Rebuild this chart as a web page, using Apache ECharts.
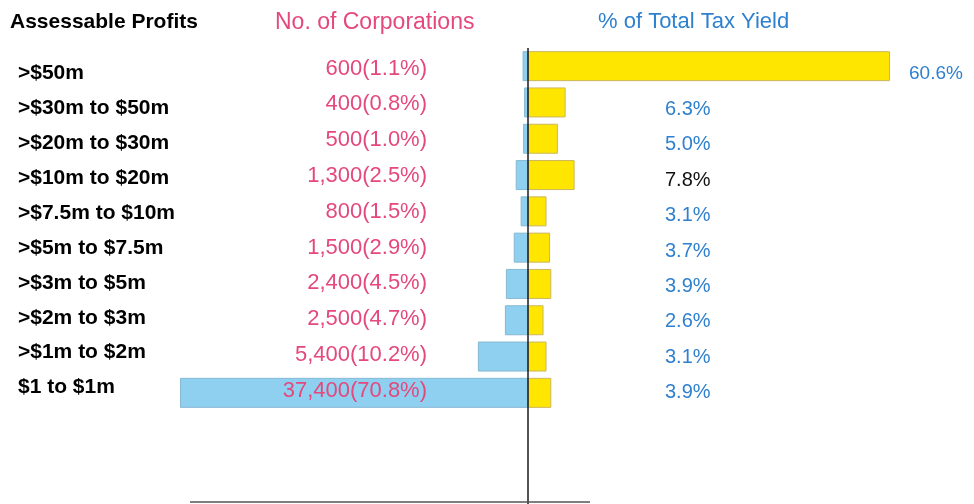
<!DOCTYPE html>
<html>
<head>
<meta charset="utf-8">
<script src="https://cdn.jsdelivr.net/npm/echarts@6/dist/echarts.min.js"></script>
<style>
  html, body { margin: 0; padding: 0; background: #ffffff; }
  #chart { width: 974px; height: 504px; }
</style>
</head>
<body>
<div id="chart"></div>
<script>
// Profit bands, top to bottom
const categories = ['>$50m', '>$30m to $50m', '>$20m to $30m', '>$10m to $20m', '>$7.5m to $10m',
  '>$5m to $7.5m', '>$3m to $5m', '>$2m to $3m', '>$1m to $2m', '$1 to $1m'];
// Number of corporations in each band and its share (%)
const corpCounts = [600, 400, 500, 1300, 800, 1500, 2400, 2500, 5400, 37400];
const corpShares = [1.1, 0.8, 1.0, 2.5, 1.5, 2.9, 4.5, 4.7, 10.2, 70.8];
// Share of total tax yield (%)
const taxShares = [60.6, 6.3, 5.0, 7.8, 3.1, 3.7, 3.9, 2.6, 3.1, 3.9];

const FONT = "'Liberation Sans', Arial, Helvetica, sans-serif";
const PINK = '#e4487d';
const BLUE = '#2f80cf';
const CENTER_X = 528;

const chart = echarts.init(document.getElementById('chart'), null, { renderer: 'canvas' });

// a text-only category column (no visible axis line / ticks)
function labelAxis(gridIndex, extra) {
  return Object.assign({
    gridIndex, type: 'category', data: categories, inverse: true, z: 6,
    axisLine: { show: false }, axisTick: { show: false }, splitLine: { show: false }
  }, extra);
}

chart.setOption({
  animation: false,
  backgroundColor: '#ffffff',
  title: [
    { text: 'Assessable Profits', left: 5, top: 7,
      textStyle: { fontFamily: FONT, fontSize: 21, fontWeight: 'bold', color: '#000000' } },
    { text: 'No. of Corporations', left: 270, top: 6,
      textStyle: { fontFamily: FONT, fontSize: 23, fontWeight: 'normal', color: PINK } },
    { text: '% of Total Tax Yield', left: 593, top: 6,
      textStyle: { fontFamily: FONT, fontSize: 22, fontWeight: 'normal', color: BLUE } }
  ],
  grid: [
    { left: 180, right: 974 - CENTER_X, top: 48, height: 363 },   // corporations bars
    { left: CENTER_X, width: 362, top: 48, height: 363 },          // tax yield bars
    { left: 180, width: 10, top: 56, height: 349 },                // band names
    { left: 435, width: 10, top: 50.6, height: 358 },              // corporation counts
    { left: 665, width: 10, top: 56.3, height: 354 }               // tax yield values
  ],
  xAxis: [
    { gridIndex: 0, type: 'value', min: 0, max: 70.8, inverse: true, show: false },
    { gridIndex: 1, type: 'value', min: 0, max: 60.6, show: false },
    { gridIndex: 2, type: 'value', min: 0, max: 1, show: false },
    { gridIndex: 3, type: 'value', min: 0, max: 1, show: false },
    { gridIndex: 4, type: 'value', min: 0, max: 1, show: false }
  ],
  yAxis: [
    { gridIndex: 0, type: 'category', data: categories, inverse: true, show: false },
    { gridIndex: 1, type: 'category', data: categories, inverse: true, show: false },
    labelAxis(2, {
      axisLabel: { show: true, margin: 162, align: 'left', fontFamily: FONT,
        fontSize: 21, fontWeight: 'bold', color: '#000000' }
    }),
    labelAxis(3, {
      axisLabel: { show: true, margin: 8, align: 'right', fontFamily: FONT,
        fontSize: 22, color: PINK,
        formatter: (v, i) => corpCounts[i].toLocaleString('en-US') + '(' + corpShares[i].toFixed(1) + '%)' }
    }),
    labelAxis(4, {
      axisLabel: { show: true, margin: 0, align: 'left', fontFamily: FONT,
        fontSize: 20, color: BLUE,
        formatter: (v, i) => {
          const t = taxShares[i].toFixed(1) + '%';
          if (i === 0) return '{far|' + t + '}';
          if (taxShares[i] === 7.8) return '{dark|' + t + '}';
          return t;
        },
        rich: {
          far: { fontFamily: FONT, fontSize: 19, color: BLUE, padding: [0, 0, 0, 244] },
          dark: { fontFamily: FONT, fontSize: 20, color: '#111111' }
        }
      }
    })
  ],
  series: [
    {
      type: 'bar', xAxisIndex: 0, yAxisIndex: 0, data: corpShares, barWidth: 30,
      itemStyle: { color: '#8fd0f0', borderColor: '#86b9d2', borderWidth: 1 }
    },
    {
      type: 'bar', xAxisIndex: 1, yAxisIndex: 1, data: taxShares, barWidth: 30,
      itemStyle: { color: '#ffe600', borderColor: '#cbb65e', borderWidth: 1 }
    }
  ],
  graphic: [
    { type: 'line', shape: { x1: CENTER_X, y1: 48, x2: CENTER_X, y2: 504 },
      style: { stroke: '#1a1a1a', lineWidth: 1.5 }, z: 10 },
    { type: 'line', shape: { x1: 190, y1: 502, x2: 590, y2: 502 },
      style: { stroke: '#555555', lineWidth: 1.5 }, z: 10 }
  ]
});
</script>
</body>
</html>
